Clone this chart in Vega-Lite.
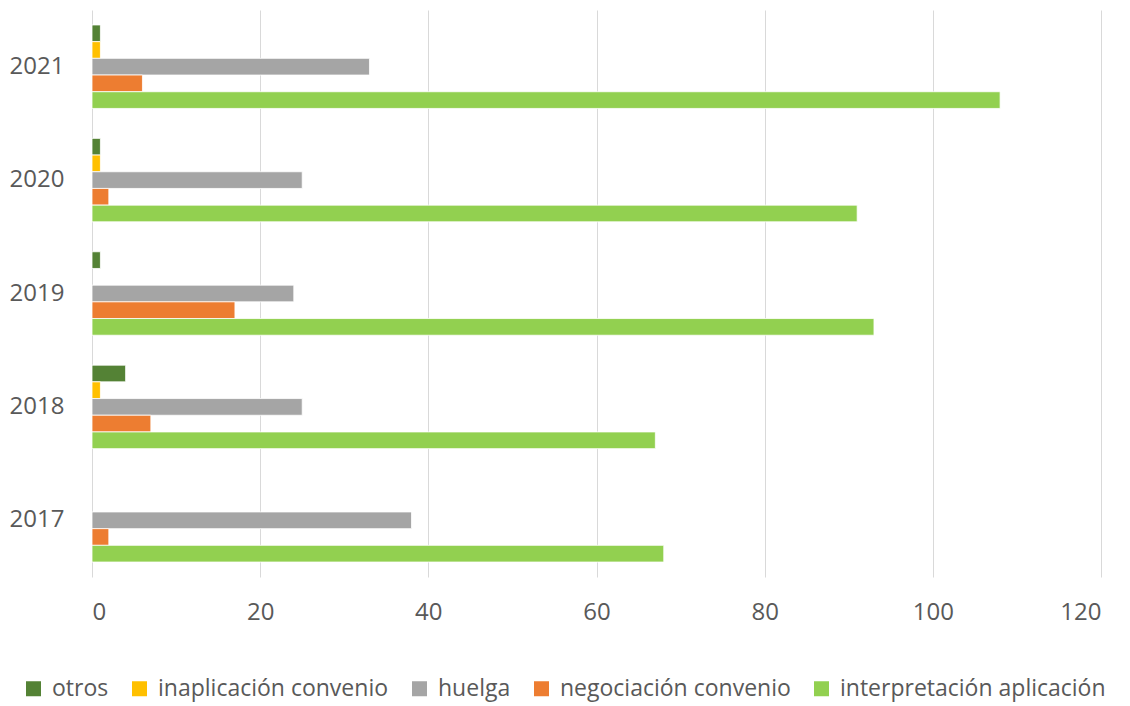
{
  "$schema": "https://vega.github.io/schema/vega-lite/v6.json",
  "autosize": "none",
  "width": 1009,
  "height": 567,
  "padding": {"left": 92, "top": 10, "right": 29, "bottom": 129},
  "background": "white",
  "config": {
    "font": "Open Sans",
    "view": {"stroke": null}
  },
  "data": {
    "values": [
      {"year": "2021", "tipo": "otros", "n": 1},
      {"year": "2021", "tipo": "inaplicación convenio", "n": 1},
      {"year": "2021", "tipo": "huelga", "n": 33},
      {"year": "2021", "tipo": "negociación convenio", "n": 6},
      {"year": "2021", "tipo": "interpretación aplicación", "n": 108},
      {"year": "2020", "tipo": "otros", "n": 1},
      {"year": "2020", "tipo": "inaplicación convenio", "n": 1},
      {"year": "2020", "tipo": "huelga", "n": 25},
      {"year": "2020", "tipo": "negociación convenio", "n": 2},
      {"year": "2020", "tipo": "interpretación aplicación", "n": 91},
      {"year": "2019", "tipo": "otros", "n": 1},
      {"year": "2019", "tipo": "huelga", "n": 24},
      {"year": "2019", "tipo": "negociación convenio", "n": 17},
      {"year": "2019", "tipo": "interpretación aplicación", "n": 93},
      {"year": "2018", "tipo": "otros", "n": 4},
      {"year": "2018", "tipo": "inaplicación convenio", "n": 1},
      {"year": "2018", "tipo": "huelga", "n": 25},
      {"year": "2018", "tipo": "negociación convenio", "n": 7},
      {"year": "2018", "tipo": "interpretación aplicación", "n": 67},
      {"year": "2017", "tipo": "huelga", "n": 38},
      {"year": "2017", "tipo": "negociación convenio", "n": 2},
      {"year": "2017", "tipo": "interpretación aplicación", "n": 68}
    ]
  },
  "mark": {"type": "bar", "stroke": "white", "strokeWidth": 0.8},
  "encoding": {
    "y": {
      "field": "year",
      "type": "nominal",
      "sort": ["2021", "2020", "2019", "2018", "2017"],
      "scale": {"paddingInner": 0.264, "paddingOuter": 0.132},
      "axis": {
        "title": null,
        "domain": false,
        "ticks": false,
        "labelFontSize": 24,
        "labelColor": "#595959",
        "labelPadding": 28,
        "grid": false
      }
    },
    "yOffset": {
      "field": "tipo",
      "type": "nominal",
      "scale": {
        "domain": ["otros", "inaplicación convenio", "huelga", "negociación convenio", "interpretación aplicación"],
        "paddingInner": 0,
        "paddingOuter": 0
      }
    },
    "x": {
      "field": "n",
      "type": "quantitative",
      "scale": {"domain": [0, 120], "nice": false},
      "axis": {
        "title": null,
        "domain": false,
        "ticks": false,
        "values": [0, 20, 40, 60, 80, 100, 120],
        "labelFontSize": 24,
        "labelColor": "#595959",
        "labelPadding": 23,
        "grid": true,
        "gridColor": "#d9d9d9",
        "gridWidth": 1
      }
    },
    "color": {
      "field": "tipo",
      "type": "nominal",
      "scale": {
        "domain": ["otros", "inaplicación convenio", "huelga", "negociación convenio", "interpretación aplicación"],
        "range": ["#548235", "#FFC000", "#A5A5A5", "#ED7D31", "#92D050"]
      },
      "legend": {
        "title": null,
        "orient": "none",
        "direction": "horizontal",
        "legendX": -70,
        "legendY": 667,
        "symbolType": "square",
        "symbolSize": 225,
        "symbolStrokeWidth": 0,
        "labelFontSize": 23,
        "labelColor": "#595959",
        "labelOffset": 7,
        "columnPadding": 19,
        "labelLimit": 400
      }
    }
  }
}
